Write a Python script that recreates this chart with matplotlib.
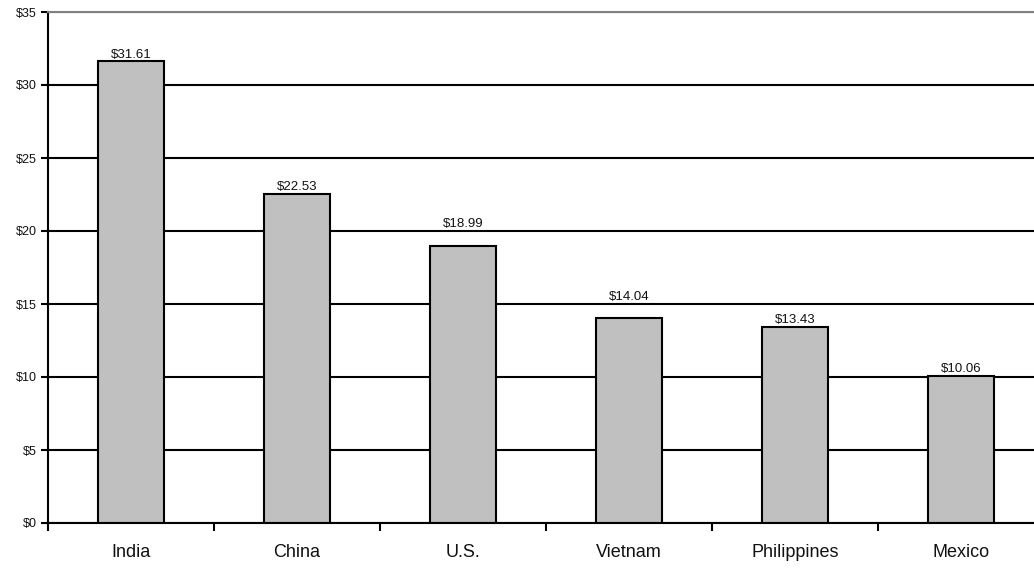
import matplotlib
matplotlib.use("Agg")
import matplotlib.pyplot as plt
from matplotlib.ticker import MultipleLocator, FuncFormatter, FixedLocator

plt.rcParams['font.family'] = ['Liberation Sans', 'DejaVu Sans']

countries = ["India", "China", "U.S.", "Vietnam", "Philippines", "Mexico"]
values = [31.61, 22.53, 18.99, 14.04, 13.43, 10.06]
value_labels = ["$31.61", "$22.53", "$18.99", "$14.04", "$13.43", "$10.06"]

W, H = 1034, 574
fig = plt.figure(figsize=(W / 100, H / 100), dpi=100)
left, right, bottom, top = 48, 1044, 523, 12
ax = fig.add_axes([left / W, (H - bottom) / H, (right - left) / W, (bottom - top) / H])

x = list(range(len(countries)))
ax.set_axisbelow(True)
ax.yaxis.grid(True, color="black", linewidth=1.5)
ax.bar(x, values, width=0.4, color="#c0c0c0", edgecolor="black", linewidth=1.5, zorder=3)

offsets = [0.5, 0.5, 11, 11, 0.5, 0.5]
for xi, v, lab, off in zip(x, values, value_labels, offsets):
    ax.annotate(lab, (xi, v), xytext=(0, off), textcoords="offset points",
                ha="center", va="bottom", fontsize=9.5, color="#111111", zorder=4)

ax.set_xlim(-0.5, len(countries) - 0.5)
ax.set_ylim(0, 35)
ax.yaxis.set_major_locator(MultipleLocator(5))
ax.yaxis.set_major_formatter(FuncFormatter(lambda v, p: f"${int(v)}"))
ax.tick_params(axis="y", labelsize=9, length=5, width=1.5, direction="out", pad=3,
               labelcolor="#111111")

ax.set_xticks(x)
ax.set_xticklabels(countries, fontsize=13, color="#111111")
ax.tick_params(axis="x", which="major", length=0, pad=15)
ax.xaxis.set_minor_locator(FixedLocator([i + 0.5 for i in range(-1, len(countries))]))
ax.tick_params(axis="x", which="minor", length=6, width=1.5, direction="out")

for s in ["left", "bottom"]:
    ax.spines[s].set_linewidth(1.5)
    ax.spines[s].set_color("black")
ax.spines["top"].set_color("#808080")
ax.spines["top"].set_linewidth(1.5)
ax.spines["right"].set_visible(False)
ax.spines["bottom"].set_zorder(5)

fig.savefig("out.png", dpi=100)
